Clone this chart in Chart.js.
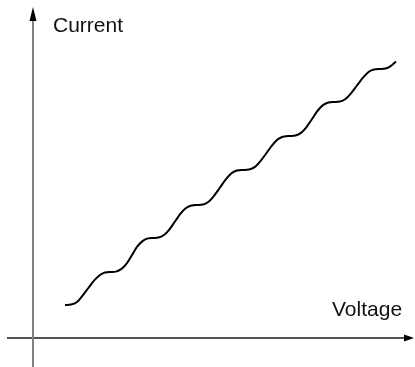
<!DOCTYPE html>
<html>
<head>
<meta charset="utf-8">
<script src="https://cdn.jsdelivr.net/npm/chart.js@4.4.0/dist/chart.umd.min.js"></script>
<style>
    html, body { margin: 0; padding: 0; background: #fff; }
    #wrap { width: 415px; height: 367px; position: relative; }
</style>
</head>
<body>
<div id="wrap"><canvas id="ivChart"></canvas></div>
<script>
// voltage / current values (arbitrary units)
const voltage = [
    32, 38, 44, 49, 55, 61, 67, 72,
    78, 83, 88.5, 94, 99, 104, 109.5, 115,
    120, 125.5, 131, 136.5, 142, 147.5, 153, 158.5,
    164, 170, 175.5, 181, 187, 193, 198.5, 204,
    210, 216, 222, 227.5, 233.5, 239.5, 245, 251,
    257, 262.5, 268, 273.5, 279, 284.5, 290, 295.5,
    301, 307, 312.5, 318, 324, 330, 335.5, 341,
    347, 352.5, 358, 363
];
const current = [
    33, 33.4, 36, 41.7, 49.5, 57.3, 63, 65.6,
    66, 66.4, 69.1, 74.9, 83, 91.1, 96.9, 99.6,
    100, 100.4, 103, 108.7, 116.5, 124.3, 130, 132.6,
    133, 133.4, 136.2, 142.2, 150.5, 158.8, 164.8, 167.6,
    168, 168.4, 171.1, 176.9, 185, 193.1, 198.9, 201.6,
    202, 202.4, 205.1, 210.9, 219, 227.1, 232.9, 235.6,
    236, 236.4, 239, 244.7, 252.5, 260.3, 266, 268.6,
    269, 269.4, 272.1, 276.5
];

const xAxisLabel = "Voltage";
const yAxisLabel = "Current";

const curve = voltage.map((v, i) => ({ x: v, y: current[i] }));

// arrowheads and axis titles
const decorPlugin = {
    id: "decor",
    afterDatasetsDraw(chart) {
        const c = chart.ctx;
        const xs = chart.scales.x;
        const ys = chart.scales.y;
        const ox = xs.getPixelForValue(0);
        const oy = ys.getPixelForValue(0);

        c.save();
        c.fillStyle = "#000";

        // y arrow
        const ty = ys.getPixelForValue(331);
        c.beginPath();
        c.moveTo(ox, ty);
        c.lineTo(ox - 3.5, ty + 14);
        c.lineTo(ox + 3.5, ty + 14);
        c.closePath();
        c.fill();

        // x arrow
        const tx = xs.getPixelForValue(381);
        c.beginPath();
        c.moveTo(tx, oy);
        c.lineTo(tx - 10, oy - 3.5);
        c.lineTo(tx - 10, oy + 3.5);
        c.closePath();
        c.fill();

        c.font = "21px 'Liberation Sans', Arial, sans-serif";
        c.fillStyle = "#111";
        c.textBaseline = "alphabetic";
        c.fillText(yAxisLabel, xs.getPixelForValue(20), ys.getPixelForValue(306));
        c.fillText(xAxisLabel, xs.getPixelForValue(299), ys.getPixelForValue(22));
        c.restore();
    }
};

new Chart(document.getElementById("ivChart"), {
    type: "scatter",
    data: {
        datasets: [
            {
                data: [{ x: 0, y: -29 }, { x: 0, y: 318 }],
                showLine: true,
                borderColor: "#808080",
                borderWidth: 2,
                pointRadius: 0,
                clip: false
            },
            {
                data: [{ x: -26, y: 0 }, { x: 373, y: 0 }],
                showLine: true,
                borderColor: "#1a1a1a",
                borderWidth: 1.5,
                pointRadius: 0,
                clip: false
            },
            {
                data: curve,
                showLine: true,
                borderColor: "#000",
                borderWidth: 2,
                pointRadius: 0,
                cubicInterpolationMode: "monotone",
                clip: false
            }
        ]
    },
    options: {
        responsive: true,
        maintainAspectRatio: false,
        animation: false,
        layout: { padding: 0 },
        plugins: {
            legend: { display: false },
            tooltip: { enabled: false }
        },
        scales: {
            x: { type: "linear", min: -33, max: 382, display: false },
            y: { type: "linear", min: -29, max: 338, display: false }
        }
    },
    plugins: [decorPlugin]
});
</script>
</body>
</html>
